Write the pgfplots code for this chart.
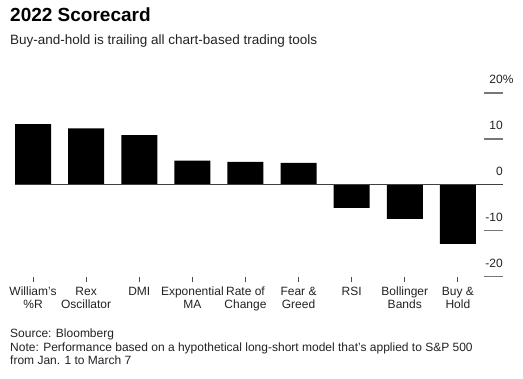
\documentclass[border=0pt]{standalone}
\usepackage{pgfplots}
\pgfplotsset{compat=1.18}
\usepackage{fontspec}
\setmainfont{Liberation Sans}
\definecolor{txt}{HTML}{222222}
\definecolor{tickc}{HTML}{777777}
\begin{document}
\begin{tikzpicture}[x=1pt,y=1pt]
\path[use as bounding box] (0,0) rectangle (523,-379);
\node[anchor=base west,inner sep=0,font=\fontsize{19}{22}\selectfont\bfseries] at (10,-21.5) {2022 Scorecard};
\node[anchor=base west,inner sep=0,text=txt,font=\fontsize{13.5}{16}\selectfont] at (10,-44.5) {Buy-and-hold is trailing all chart-based trading tools};
\begin{axis}[
  at={(15pt,-276.7pt)}, anchor=south west,
  scale only axis, width=488pt, height=183.7pt,
  xmin=-0.34, xmax=8.85, ymin=-20, ymax=20,
  axis x line*=bottom, axis y line*=right,
  x axis line style={draw=none}, y axis line style={draw=none},
  xtick={0,...,8},
  xticklabels={William's\\\%R, Rex\\Oscillator, DMI, Exponential\\MA, Rate of\\Change, Fear \&\\Greed, RSI, Bollinger\\Bands, Buy \&\\Hold},
  xticklabel style={align=center, text=txt, font=\fontsize{12}{13.3}\selectfont, anchor=north, yshift=-5pt, inner sep=0},
  x tick style={draw=black!70, line width=1pt},
  xtick align=outside, major tick length=5pt,
  ytick=\empty,
  extra y ticks={-20,-10,0,10,20},
  extra y tick labels={-20,-10,0,10,20\rlap{\%}},
  extra y tick style={major tick length=19pt, ytick align=inside,
     y tick style={draw=tickc, line width=1.3pt},
     yticklabel style={anchor=south east, text=txt, font=\fontsize{12}{14}\selectfont, inner sep=0, yshift=9pt}},
  /pgf/number format/assume math mode=true,
]
\addplot[ybar, bar width=36pt, fill=black, draw=none] coordinates {
(0,13.2) (1,12.3) (2,10.85) (3,5.25) (4,5.0) (5,4.8) (6,-5.0) (7,-7.4) (8,-12.85)};
\draw[color=black!75, line width=0.9pt] (axis cs:-0.34,0) -- (axis cs:8.85,0);
\end{axis}
\node[anchor=base west,inner sep=0,text=txt,font=\fontsize{12}{14}\selectfont] at (10,-338) {Source: Bloomberg};
\node[anchor=base west,inner sep=0,text=txt,font=\fontsize{12}{14}\selectfont] at (10,-351.5) {Note: Performance based on a hypothetical long-short model that's applied to S\&P 500};
\node[anchor=base west,inner sep=0,text=txt,font=\fontsize{12}{14}\selectfont] at (10,-365) {from Jan. 1 to March 7};
\end{tikzpicture}
\end{document}
